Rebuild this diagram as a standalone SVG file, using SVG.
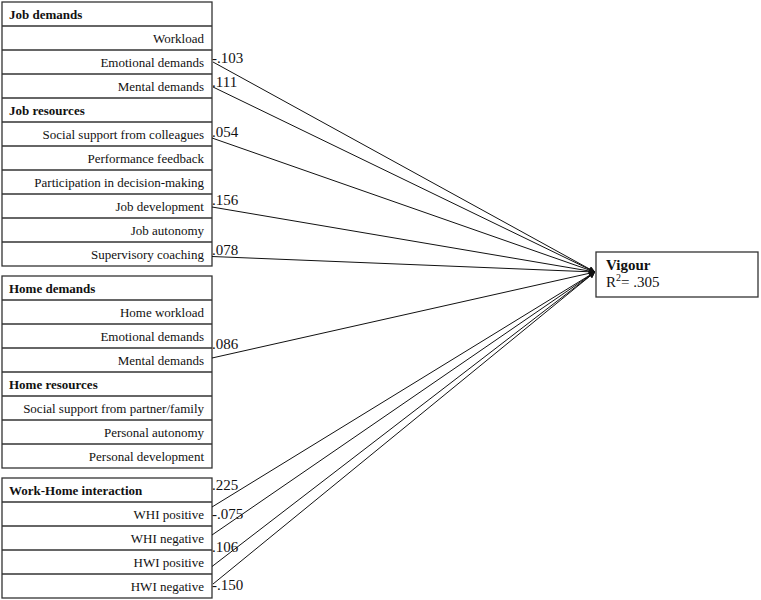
<svg xmlns="http://www.w3.org/2000/svg" width="761" height="600" viewBox="0 0 761 600">
<style>
.box{fill:#fff;stroke:#333;stroke-width:1.3}
.sep{stroke:#333;stroke-width:1.3}
.t{font-family:"Liberation Serif",serif;font-size:13px;fill:#111}
.r{text-anchor:end}
.b{font-weight:bold}
.n{font-family:"Liberation Serif",serif;font-size:15px;fill:#111}
.c{stroke:#111;stroke-width:1;fill:none;marker-end:url(#ah)}
</style>
<defs>
<marker id="ah" viewBox="0 0 10 10" refX="10" refY="5" markerWidth="9" markerHeight="6" markerUnits="userSpaceOnUse" orient="auto">
<path d="M0,0 L10,5 L0,10 z" fill="#111"/>
</marker>
</defs>
<g id="job-table">
<rect class="box" x="2" y="2" width="210" height="264"/>
<g class="sep">
<line x1="2" y1="26" x2="212" y2="26"/><line x1="2" y1="50" x2="212" y2="50"/><line x1="2" y1="74" x2="212" y2="74"/><line x1="2" y1="98" x2="212" y2="98"/><line x1="2" y1="122" x2="212" y2="122"/><line x1="2" y1="146" x2="212" y2="146"/><line x1="2" y1="170" x2="212" y2="170"/><line x1="2" y1="194" x2="212" y2="194"/><line x1="2" y1="218" x2="212" y2="218"/><line x1="2" y1="242" x2="212" y2="242"/>
</g>
<text class="t b" x="9" y="18.5">Job demands</text>
<text class="t r" x="204" y="42.5">Workload</text>
<text class="t r" x="204" y="66.5">Emotional demands</text>
<text class="t r" x="204" y="90.5">Mental demands</text>
<text class="t b" x="9" y="114.5">Job resources</text>
<text class="t r" x="204" y="138.5">Social support from colleagues</text>
<text class="t r" x="204" y="162.5">Performance feedback</text>
<text class="t r" x="204" y="186.5">Participation in decision-making</text>
<text class="t r" x="204" y="210.5">Job development</text>
<text class="t r" x="204" y="234.5">Job autonomy</text>
<text class="t r" x="204" y="258.5">Supervisory coaching</text>
</g>
<g id="home-table">
<rect class="box" x="2" y="276" width="210" height="192"/>
<g class="sep">
<line x1="2" y1="300" x2="212" y2="300"/><line x1="2" y1="324" x2="212" y2="324"/><line x1="2" y1="348" x2="212" y2="348"/><line x1="2" y1="372" x2="212" y2="372"/><line x1="2" y1="396" x2="212" y2="396"/><line x1="2" y1="420" x2="212" y2="420"/><line x1="2" y1="444" x2="212" y2="444"/>
</g>
<text class="t b" x="9" y="292.5">Home demands</text>
<text class="t r" x="204" y="316.5">Home workload</text>
<text class="t r" x="204" y="340.5">Emotional demands</text>
<text class="t r" x="204" y="364.5">Mental demands</text>
<text class="t b" x="9" y="388.5">Home resources</text>
<text class="t r" x="204" y="412.5">Social support from partner/family</text>
<text class="t r" x="204" y="436.5">Personal autonomy</text>
<text class="t r" x="204" y="460.5">Personal development</text>
</g>
<g id="whi-table">
<rect class="box" x="2" y="478" width="210" height="120"/>
<g class="sep">
<line x1="2" y1="502" x2="212" y2="502"/><line x1="2" y1="526" x2="212" y2="526"/><line x1="2" y1="550" x2="212" y2="550"/><line x1="2" y1="574" x2="212" y2="574"/>
</g>
<text class="t b" x="9" y="494.5">Work-Home interaction</text>
<text class="t r" x="204" y="518.5">WHI positive</text>
<text class="t r" x="204" y="542.5">WHI negative</text>
<text class="t r" x="204" y="566.5">HWI positive</text>
<text class="t r" x="204" y="590.5">HWI negative</text>
</g>
<g id="vigour">
<rect class="box" x="596" y="252" width="162" height="45"/>
<text class="n b" x="606" y="270">Vigour</text>
<text class="n" x="606" y="287">R<tspan font-size="10" dy="-6">2</tspan><tspan dy="6">= .305</tspan></text>
</g>
<g id="connectors">
<line class="c" x1="213" y1="62" x2="595" y2="272"/>
<line class="c" x1="213" y1="87" x2="595" y2="272"/>
<line class="c" x1="212" y1="138" x2="595" y2="272"/>
<line class="c" x1="212" y1="207" x2="595" y2="272"/>
<line class="c" x1="212" y1="256.5" x2="595" y2="272"/>
<line class="c" x1="212" y1="358" x2="595" y2="272"/>
<line class="c" x1="212" y1="507" x2="595" y2="272"/>
<line class="c" x1="212" y1="535" x2="595" y2="272"/>
<line class="c" x1="212" y1="566.5" x2="595" y2="272"/>
<line class="c" x1="213" y1="584" x2="595" y2="272"/>
</g>
<g id="labels">
<text class="n" x="212" y="63">-.103</text>
<text class="n" x="212" y="87">.111</text>
<text class="n" x="212" y="137">.054</text>
<text class="n" x="212" y="205">.156</text>
<text class="n" x="212" y="255">.078</text>
<text class="n" x="212" y="349">.086</text>
<text class="n" x="212" y="490">.225</text>
<text class="n" x="212" y="519">-.075</text>
<text class="n" x="212" y="552">.106</text>
<text class="n" x="212" y="590">-.150</text>
</g>
</svg>
